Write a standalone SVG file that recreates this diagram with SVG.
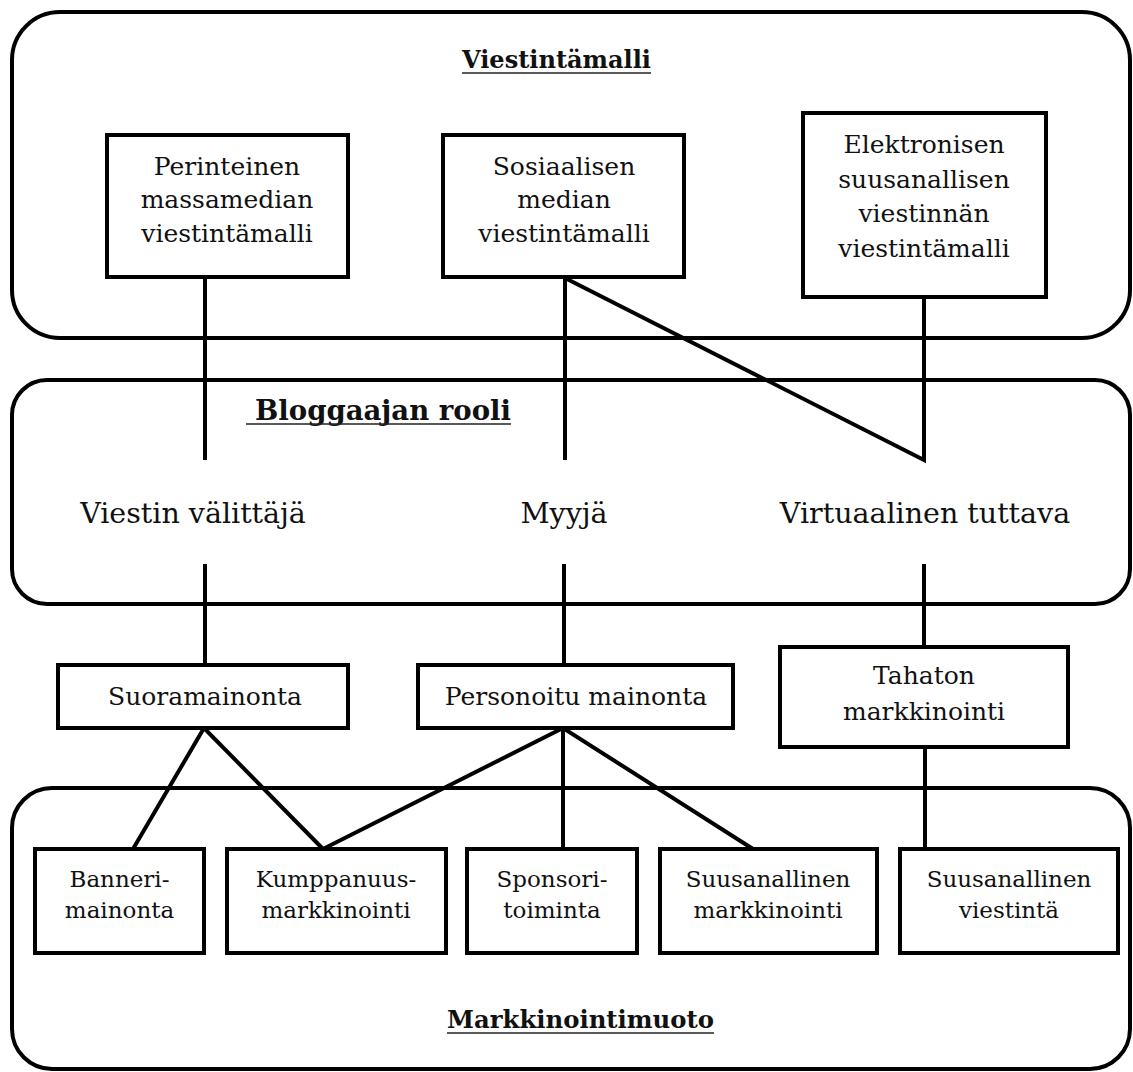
<svg xmlns="http://www.w3.org/2000/svg" width="1133" height="1072" viewBox="0 0 1133 1072">
<style>
.c{fill:none;stroke:#000;stroke-width:4}
.b{fill:#fff;stroke:#000;stroke-width:4}
.l{fill:none;stroke:#000;stroke-width:4}
.u{stroke:#222;stroke-width:1.5}
.t{font-family:"DejaVu Serif","Liberation Serif",serif;fill:#111;text-anchor:middle;font-size:25px}
.s{font-size:23px}
.r{font-size:28.5px}
.h{font-family:"DejaVu Serif","Liberation Serif",serif;fill:#111;font-weight:bold;text-anchor:start}
</style>
<rect width="1133" height="1072" fill="#fff"/>
<g id="viestintamalli-container">
<rect class="c" x="12" y="12" width="1118" height="326" rx="48"/>
<text class="h" x="462" y="68" font-size="24" textLength="189" lengthAdjust="spacingAndGlyphs">Viestintämalli</text>
<line class="u" x1="462" y1="73" x2="651" y2="73"/>
</g>
<g id="bloggaajan-rooli-container">
<rect class="c" x="12" y="380" width="1118" height="224" rx="35"/>
<text class="h" x="255" y="420" font-size="28" textLength="256" lengthAdjust="spacingAndGlyphs">Bloggaajan rooli</text>
<line class="u" x1="246" y1="424" x2="511" y2="424"/>
</g>
<g id="markkinointimuoto-container">
<rect class="c" x="12" y="788" width="1118" height="281" rx="40"/>
<text class="h" x="447" y="1028" font-size="25" textLength="267" lengthAdjust="spacingAndGlyphs">Markkinointimuoto</text>
<line class="u" x1="447" y1="1033" x2="714" y2="1033"/>
</g>
<g id="connectors">
<path class="l" d="M205 277V460"/>
<path class="l" d="M565 277V460"/>
<path class="l" d="M565 278L924 460V297"/>
<path class="l" d="M205 564V665"/>
<path class="l" d="M564 564V665"/>
<path class="l" d="M924 564V647"/>
<path class="l" d="M133 849L204 728L323 849"/>
<path class="l" d="M323 849L563 728L753 849"/>
<path class="l" d="M563 728V849"/>
<path class="l" d="M925 747V849"/>
</g>
<g id="perinteinen">
<rect class="b" x="107" y="135" width="241" height="142"/>
<text class="t" x="227" y="175">Perinteinen</text>
<text class="t" x="227" y="208">massamedian</text>
<text class="t" x="227" y="242">viestintämalli</text>
</g>
<g id="sosiaalisen">
<rect class="b" x="443" y="135" width="241" height="142"/>
<text class="t" x="564" y="175">Sosiaalisen</text>
<text class="t" x="564" y="208">median</text>
<text class="t" x="564" y="242">viestintämalli</text>
</g>
<g id="elektronisen">
<rect class="b" x="803" y="113" width="243" height="184"/>
<text class="t" x="924" y="153">Elektronisen</text>
<text class="t" x="924" y="188">suusanallisen</text>
<text class="t" x="924" y="222">viestinnän</text>
<text class="t" x="924" y="257">viestintämalli</text>
</g>
<g id="viestin-valittaja"><text class="t r" x="193" y="523">Viestin välittäjä</text></g>
<g id="myyja"><text class="t r" x="564" y="523">Myyjä</text></g>
<g id="virtuaalinen-tuttava"><text class="t r" x="925" y="523">Virtuaalinen tuttava</text></g>
<g id="suoramainonta">
<rect class="b" x="58" y="665" width="290" height="63"/>
<text class="t" x="205" y="705">Suoramainonta</text>
</g>
<g id="personoitu-mainonta">
<rect class="b" x="418" y="665" width="315" height="63"/>
<text class="t" x="576" y="705">Personoitu mainonta</text>
</g>
<g id="tahaton-markkinointi">
<rect class="b" x="780" y="647" width="288" height="100"/>
<text class="t" x="924" y="684">Tahaton</text>
<text class="t" x="924" y="720">markkinointi</text>
</g>
<g id="bannerimainonta">
<rect class="b" x="35" y="849" width="169" height="104"/>
<text class="t s" x="119.5" y="887">Banneri-</text>
<text class="t s" x="119.5" y="918">mainonta</text>
</g>
<g id="kumppanuusmarkkinointi">
<rect class="b" x="227" y="849" width="219" height="104"/>
<text class="t s" x="336" y="887">Kumppanuus-</text>
<text class="t s" x="336" y="918">markkinointi</text>
</g>
<g id="sponsoritoiminta">
<rect class="b" x="467" y="849" width="170" height="104"/>
<text class="t s" x="552" y="887">Sponsori-</text>
<text class="t s" x="552" y="918">toiminta</text>
</g>
<g id="suusanallinen-markkinointi">
<rect class="b" x="660" y="849" width="217" height="104"/>
<text class="t s" x="768" y="887">Suusanallinen</text>
<text class="t s" x="768" y="918">markkinointi</text>
</g>
<g id="suusanallinen-viestinta">
<rect class="b" x="900" y="849" width="218" height="104"/>
<text class="t s" x="1009" y="887">Suusanallinen</text>
<text class="t s" x="1009" y="918">viestintä</text>
</g>
</svg>
